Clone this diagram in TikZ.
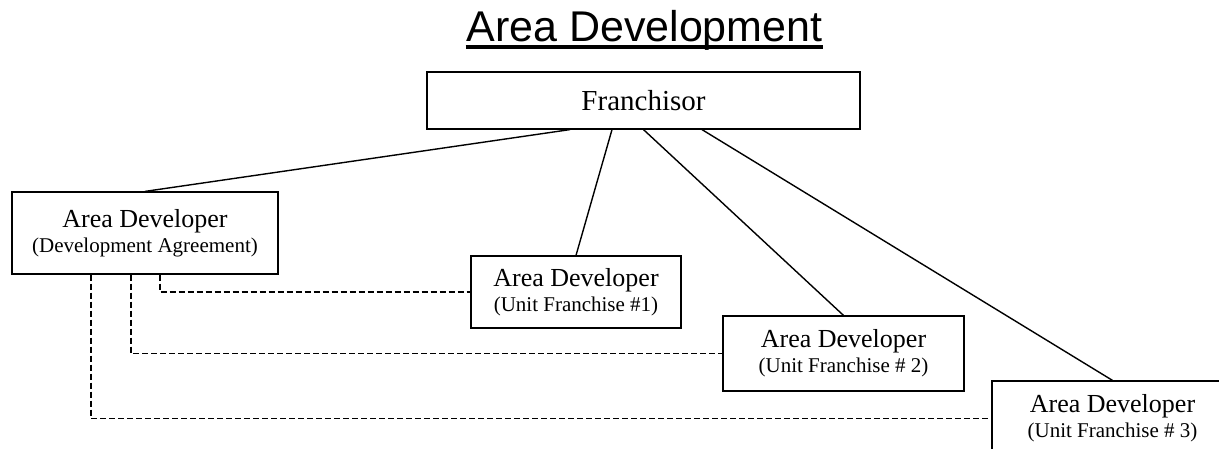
\documentclass[tikz,border=0pt]{standalone}
\usepackage{fontspec}
\setmainfont{Liberation Serif}
\newfontfamily\titlefont{Liberation Sans}
\newcommand{\subtxt}[1]{{\fontsize{21}{25}\selectfont #1}}

\begin{document}
\begin{tikzpicture}[x=1pt, y=-1pt, line width=1.4pt,
  box/.style={draw, rectangle, line width=1.2pt, align=center, inner sep=0pt, font=\fontsize{26}{25}\selectfont},
  tie/.style={line width=1.6pt, dash pattern=on 6pt off 3pt}]
\useasboundingbox (0,0) rectangle (1219,448);
\node[inner sep=0pt, anchor=base, font=\titlefont\fontsize{43}{43}\selectfont] (T) at (644.5,41) {Area Development};
\draw[line width=3.5pt] ([yshift=-6pt]T.base west) -- ([yshift=-6pt]T.base east);
\node[box, minimum width=433pt, minimum height=57pt, font=\fontsize{29}{29}\selectfont] (F) at (643.5,100.5) {Franchisor};
\node[box, minimum width=266pt, minimum height=82pt] (D) at (145,233) {Area Developer\\\subtxt{(Development Agreement)}};
\node[box, minimum width=210pt, minimum height=72pt] (U1) at (576,292) {Area Developer\\\subtxt{(Unit Franchise \#1)}};
\node[box, minimum width=241pt, minimum height=75pt] (U2) at (843.5,353.5) {Area Developer\\\subtxt{(Unit Franchise \# 2)}};
\node[box, minimum width=241pt, minimum height=75pt] (U3) at (1112.5,418.5) {Area Developer\\\subtxt{(Unit Franchise \# 3)}};
\draw ([xshift=-73.5pt]F.south) -- (D.north) ([xshift=-31.5pt]F.south) -- (U1.north) (F.south) -- (U2.north) ([xshift=58.5pt]F.south) -- (U3.north);
\draw[tie] ([xshift=15pt]D.south) |- (U1.west) ([xshift=-14pt]D.south) |- (U2.west) ([xshift=-54pt]D.south) |- (U3.west);
\end{tikzpicture}
\end{document}
